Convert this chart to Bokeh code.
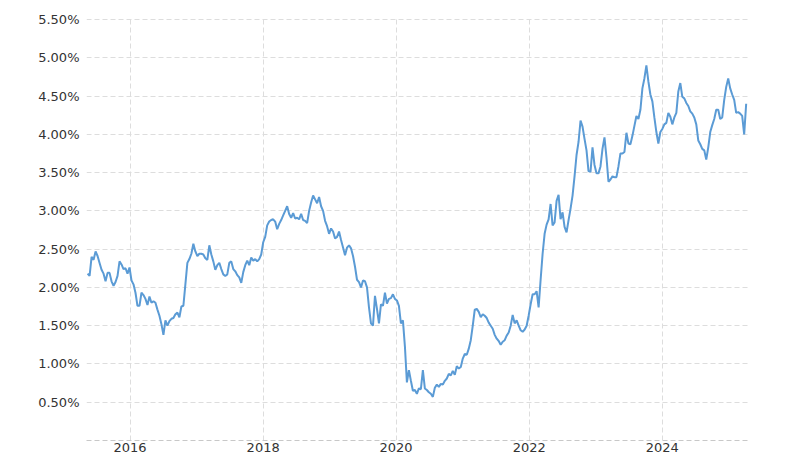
import pandas as pd
from bokeh.plotting import figure
from bokeh.models import ColumnDataSource, Range1d, FixedTicker, PrintfTickFormatter, DatetimeTickFormatter
from bokeh.embed import file_html
from bokeh.resources import INLINE

yield_2015_2017 = [2.18, 2.15, 2.40, 2.36, 2.47, 2.41, 2.32, 2.23, 2.18, 2.08,
                   2.19, 2.19, 2.08, 2.02, 2.07, 2.15, 2.34, 2.30, 2.24, 2.25,
                   2.18, 2.26, 2.09, 2.04, 1.93, 1.76, 1.76, 1.93, 1.90, 1.85,
                   1.77, 1.88, 1.80, 1.82, 1.80, 1.71, 1.63, 1.52, 1.38, 1.57,
                   1.50, 1.56, 1.59, 1.60, 1.65, 1.67, 1.61, 1.75, 1.76, 2.04,
                   2.32, 2.37, 2.44, 2.57, 2.47, 2.41, 2.44]
yield_2017_2018 = [2.44, 2.43, 2.38, 2.36, 2.55, 2.43, 2.34, 2.23, 2.29, 2.32,
                   2.24, 2.17, 2.15, 2.17, 2.32, 2.34, 2.24, 2.21, 2.16, 2.13,
                   2.06, 2.20, 2.29, 2.35, 2.29, 2.39, 2.35, 2.37, 2.34, 2.37,
                   2.43, 2.59, 2.66, 2.81, 2.86, 2.88, 2.89, 2.86, 2.76, 2.83,
                   2.88, 2.94, 3.00, 3.06, 2.96, 2.91, 2.97, 2.90, 2.91, 2.89,
                   2.96, 2.88, 2.87, 2.84, 3.00]
yield_2018_2020 = [3.11, 3.20, 3.15, 3.10, 3.18, 3.06, 3.00, 2.87, 2.80, 2.70,
                   2.77, 2.73, 2.64, 2.66, 2.73, 2.62, 2.52, 2.42, 2.52, 2.55,
                   2.51, 2.41, 2.27, 2.10, 2.07, 2.00, 2.09, 2.08, 2.00, 1.74,
                   1.53, 1.50, 1.89, 1.72, 1.53, 1.78, 1.76, 1.93, 1.79, 1.85,
                   1.86, 1.91, 1.85, 1.83, 1.76, 1.53, 1.57, 1.23, 0.76, 0.92,
                   0.78, 0.65, 0.66, 0.61, 0.68]
yield_2020_2022 = [0.67, 0.92, 0.68, 0.66, 0.63, 0.61, 0.57, 0.69, 0.73, 0.70,
                   0.74, 0.73, 0.78, 0.81, 0.87, 0.85, 0.91, 0.86, 0.97, 0.94,
                   0.96, 1.07, 1.13, 1.12, 1.20, 1.31, 1.50, 1.71, 1.72, 1.68,
                   1.61, 1.65, 1.63, 1.60, 1.54, 1.50, 1.46, 1.38, 1.33, 1.30,
                   1.25, 1.29, 1.31, 1.37, 1.41, 1.50, 1.64, 1.53, 1.57, 1.50,
                   1.44, 1.42, 1.45, 1.50, 1.63, 1.78, 1.91, 1.91, 1.95, 1.74,
                   2.10, 2.44]
yield_2022_2023 = [2.70, 2.82, 2.89, 3.09, 2.81, 2.85, 3.13, 3.21, 2.89, 2.98,
                   2.79, 2.72, 2.88, 3.03, 3.20, 3.45, 3.73, 3.90, 4.18, 4.10,
                   3.94, 3.79, 3.52, 3.51, 3.83, 3.60, 3.49, 3.49, 3.58, 3.81,
                   3.96, 3.70, 3.38, 3.41, 3.45, 3.44, 3.44, 3.58, 3.75, 3.75,
                   3.77, 4.02, 3.88, 3.87, 3.98, 4.11, 4.24, 4.20, 4.32, 4.60,
                   4.73, 4.90, 4.69, 4.52, 4.43]
yield_2023_2025 = [4.22, 4.03, 3.88, 4.03, 4.07, 4.13, 4.15, 4.28, 4.23, 4.13,
                   4.22, 4.28, 4.56, 4.67, 4.49, 4.47, 4.41, 4.37, 4.30, 4.27,
                   4.22, 4.13, 3.92, 3.87, 3.81, 3.79, 3.67, 3.83, 4.03, 4.12,
                   4.20, 4.32, 4.32, 4.20, 4.22, 4.45, 4.62, 4.73, 4.60, 4.52,
                   4.45, 4.28, 4.29, 4.27, 4.24, 4.00, 4.40]

first_date = "2015-05-13"
sample_step = "263h"
tick_years = ["2016", "2018", "2020", "2022", "2024"]
y_ticks = [0.5, 1.0, 1.5, 2.0, 2.5, 3.0, 3.5, 4.0, 4.5, 5.0, 5.5]
grid_y = [0.0] + y_ticks

values = (yield_2015_2017 + yield_2017_2018 + yield_2018_2020 +
          yield_2020_2022 + yield_2022_2023 + yield_2023_2025)
dates = pd.date_range(first_date, periods=len(values), freq=sample_step)
src = ColumnDataSource(data=dict(date=dates, val=values))


def ms(s):
    return pd.Timestamp(s).value / 1e6


p = figure(width=785, height=460, x_axis_type="datetime",
           output_backend="svg", toolbar_location=None,
           min_border_left=86, min_border_right=35,
           min_border_top=18, min_border_bottom=20,
           x_range=Range1d(ms("2015-05-07"), ms("2025-04-30")),
           y_range=Range1d(0, 5.513))
p.background_fill_color = "white"
p.border_fill_color = "white"
p.outline_line_color = None

year_ticks = FixedTicker(ticks=[ms(y + "-01-01") for y in tick_years])
p.xaxis.ticker = year_ticks
p.xgrid.ticker = year_ticks
p.xaxis.formatter = DatetimeTickFormatter(years="%Y", months="%Y", days="%Y",
                                          hours="%Y", minutes="%Y")
p.yaxis.ticker = FixedTicker(ticks=y_ticks)
p.ygrid.ticker = FixedTicker(ticks=grid_y)
p.yaxis.formatter = PrintfTickFormatter(format="%.2f%%")

for ax in (p.xaxis[0], p.yaxis[0]):
    ax.axis_line_color = None
    ax.major_tick_line_color = None
    ax.minor_tick_line_color = None
    ax.major_tick_out = 0
    ax.major_tick_in = 0
    ax.minor_tick_out = 0
    ax.major_label_text_font = "DejaVu Sans"
    ax.major_label_text_font_size = "13px"
    ax.major_label_text_color = "#333333"
p.yaxis.major_label_standoff = 7
p.xaxis.major_label_standoff = 2
p.xaxis.axis_line_color = "#c8c8c8"
p.xaxis.axis_line_dash = "5 3"

p.grid.grid_line_color = "#dddddd"
p.grid.grid_line_dash = "5 3"
p.grid.grid_line_width = 1

p.line(x="date", y="val", source=src, line_color="#5b9bd5", line_width=2)

open("out.html", "w").write(file_html(p, INLINE))
